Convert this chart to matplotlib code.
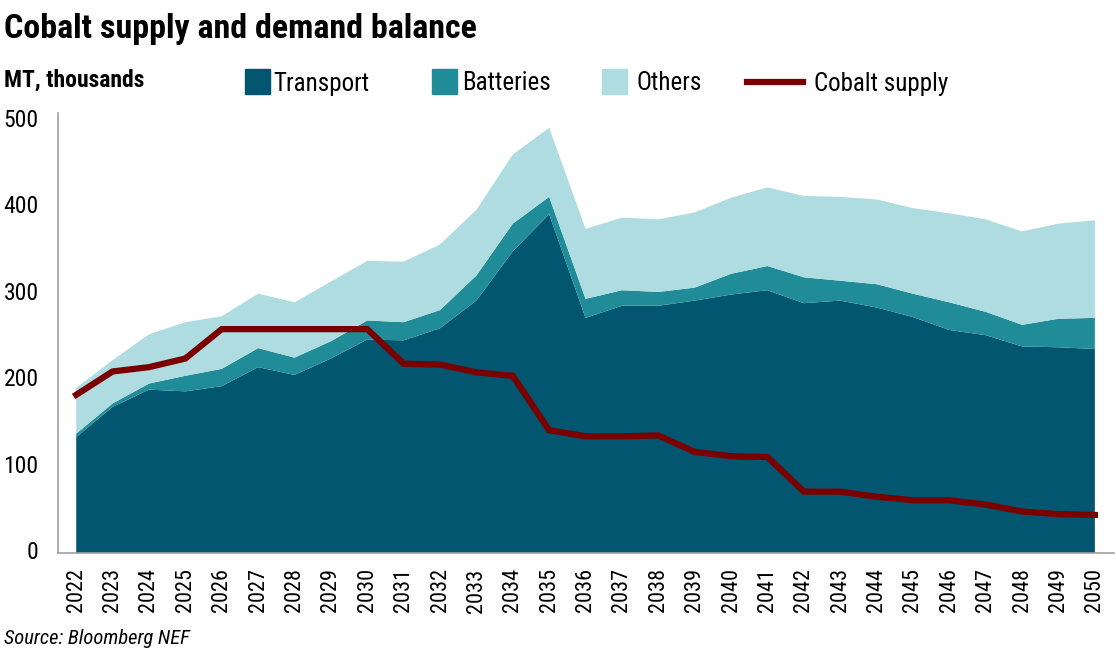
import matplotlib
matplotlib.use('Agg')
import matplotlib.pyplot as plt
from matplotlib import font_manager
from matplotlib.patches import Rectangle
from matplotlib.lines import Line2D
from matplotlib.transforms import ScaledTranslation

# pick a narrow font if one is around
fam = 'DejaVu Sans'
for f in ['Liberation Sans Narrow', 'Roboto Condensed', 'Roboto', 'DejaVu Sans']:
    try:
        font_manager.findfont(f, fallback_to_default=False)
        fam = f
        break
    except Exception:
        pass
plt.rcParams['font.family'] = [fam, 'DejaVu Sans']

years = list(range(2022, 2051))
transport = [134, 169, 189, 187, 193, 215, 206, 225, 247, 246, 260, 292, 349, 392, 272,
             286, 286, 292, 299, 304, 289, 292, 284, 273, 258, 252, 239, 238, 236]
batteries_top = [138, 173, 196, 205, 213, 237, 226, 245, 269, 267, 281, 321, 381, 412, 294,
                 304, 302, 307, 323, 332, 319, 315, 311, 300, 290, 279, 264, 271, 272]
others_top = [191, 223, 253, 267, 274, 300, 290, 314, 338, 337, 357, 397, 461, 492, 375,
              388, 386, 394, 411, 423, 413, 412, 409, 399, 393, 386, 372, 381, 385]
supply = [183, 210, 215, 225, 259, 259, 259, 259, 259, 219, 218, 209, 205, 142, 135,
          135, 136, 117, 112, 111, 71, 71, 65, 61, 61, 56, 48, 45, 44]
legend_labels = ['Transport', 'Batteries', 'Others', 'Cobalt supply']

batteries = [b - t for b, t in zip(batteries_top, transport)]
others = [o - b for o, b in zip(others_top, batteries_top)]

c_tr = '#03566F'
c_ba = '#1F8C98'
c_ot = '#AEDCE1'
c_su = '#7A0000'

W, H = 1116, 661
fig = plt.figure(figsize=(W / 100, H / 100), dpi=100)
ax = fig.add_axes([0.052, 0.1634, 0.946, 0.6656])

ax.stackplot(years, transport, batteries, others, colors=[c_tr, c_ba, c_ot], linewidth=0)
ax.plot(years, supply, color=c_su, linewidth=4.5, solid_joinstyle='miter')

ax.set_xlim(2021.5, 2050.52)
ax.set_ylim(0, 509)
ax.set_yticks([0, 100, 200, 300, 400, 500])
ax.set_xticks(years)
ax.set_xticklabels([str(y) for y in years], rotation=90, fontsize=16)
ax.tick_params(axis='x', length=0, pad=11)
ax.tick_params(axis='y', length=0, pad=14, labelsize=17)
# y labels sit a few pixels above their gridline value in the original
up = ScaledTranslation(0, 3 / 100, fig.dpi_scale_trans)
for lab in ax.get_yticklabels():
    lab.set_transform(lab.get_transform() + up)

for s in ['top', 'right']:
    ax.spines[s].set_visible(False)
for s in ['left', 'bottom']:
    ax.spines[s].set_color('#A0A0A0')
    ax.spines[s].set_linewidth(1.2)

fig.text(0.004, 0.956, 'Cobalt supply and demand balance', fontsize=24.5,
         fontweight='bold', va='center', ha='left')
fig.text(0.004, 0.879, 'MT, thousands', fontsize=17, fontweight='bold',
         va='center', ha='left')
fig.text(0.004, 0.034, 'Source: Bloomberg NEF', fontsize=14.8, style='italic',
         va='center', ha='left')

# legend laid out by hand (pixel positions across the top)
ly = 1 - 81.5 / H
sq_w, sq_h = 25 / W, 25 / H
patch_x = [245, 432, 602]
text_x = [273, 462, 636, 814]
for px, col in zip(patch_x, [c_tr, c_ba, c_ot]):
    fig.add_artist(Rectangle((px / W, ly - sq_h / 2), sq_w, sq_h, color=col,
                             transform=fig.transFigure))
fig.add_artist(Line2D([747 / W, 803 / W], [ly, ly], color=c_su, linewidth=4.5,
                      transform=fig.transFigure))
for tx, lab in zip(text_x, legend_labels):
    fig.text(tx / W, ly - 2 / H, lab, fontsize=18, va='center', ha='left')

fig.savefig('out.png', dpi=100)
